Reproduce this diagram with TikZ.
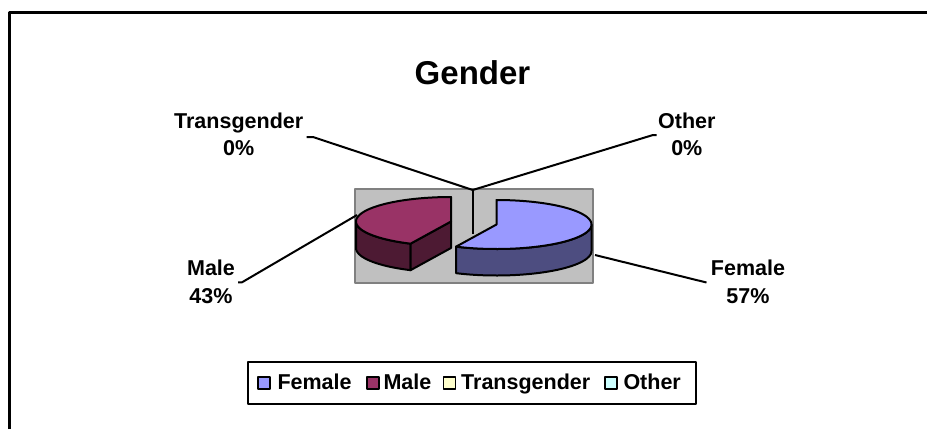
\documentclass[tikz,border=0pt]{standalone}
\usepackage{fontspec}
\setmainfont{Liberation Sans}
\definecolor{femaletop}{HTML}{9999FF}
\definecolor{femaleside}{HTML}{4D4D80}
\definecolor{maletop}{HTML}{993366}
\definecolor{maleside}{HTML}{4D1A33}
\definecolor{transcol}{HTML}{FFFFCC}
\definecolor{othercol}{HTML}{CCFFFF}
\definecolor{plotgray}{HTML}{C0C0C0}
\definecolor{plotedge}{HTML}{808080}
% ellipse radii and thickness of the 3-D pie
\def\pieRX{95}
\def\pieRY{24.5}
\def\pieDepth{26.5}
\begin{document}
\begin{tikzpicture}[x=1pt,y=-1pt,line join=round,
  slice/.style={draw=black,line width=2pt},
  lead/.style={draw=black,line width=2pt},
  lbl/.style={font=\bfseries\fontsize{21.5}{26}\selectfont,inner sep=0pt,anchor=base},
  legtext/.style={font=\bfseries\fontsize{21.5}{26}\selectfont,inner sep=0pt,anchor=base west},
  legkey/.style={draw=black,line width=1.5pt,minimum width=12pt,minimum height=12pt,inner sep=0pt,anchor=south west}]
\useasboundingbox (0,0) rectangle (927,429);

% chart frame (top and left edges)
\draw[line width=2.5pt] (9.5,429) -- (9.5,12.5) -- (927,12.5);

% title
\node[font=\bfseries\fontsize{33}{40}\selectfont,inner sep=0pt,anchor=base] (title) at (472.5,84) {Gender};

% plot area
\draw[fill=plotgray,draw=plotedge,line width=2pt] (354.5,189) rectangle (593,283);

% ---- Male slice (exploded to the left) ----
\coordinate (mc) at (451,221.5);
\coordinate (mend) at ({451+\pieRX*cos(115.2)},{221.5+\pieRY*sin(115.2)});
% outer side
\filldraw[slice,fill=maleside]
  plot[domain=115.2:180,samples=40] ({451+\pieRX*cos(\x)},{221.5+\pieRY*sin(\x)})
  -- plot[domain=180:115.2,samples=40] ({451+\pieRX*cos(\x)},{221.5+\pieDepth+\pieRY*sin(\x)})
  -- cycle;
% cut face
\filldraw[slice,fill=maleside] (mc) -- (mend) -- ([yshift=-\pieDepth pt]mend) -- ([yshift=-\pieDepth pt]mc) -- cycle;
% top face
\filldraw[slice,fill=maletop] (mc)
  -- plot[domain=115.2:270,samples=60] ({451+\pieRX*cos(\x)},{221.5+\pieRY*sin(\x)})
  -- cycle;

% ---- Female slice (exploded to the right) ----
\coordinate (fc) at (496.5,224.5);
\filldraw[slice,fill=femaleside]
  plot[domain=0:115.2,samples=50] ({496.5+\pieRX*cos(\x)},{224.5+\pieRY*sin(\x)})
  -- plot[domain=115.2:0,samples=50] ({496.5+\pieRX*cos(\x)},{224.5+\pieDepth+\pieRY*sin(\x)})
  -- cycle;
\filldraw[slice,fill=femaletop] (fc)
  -- plot[domain=-90:115.2,samples=80] ({496.5+\pieRX*cos(\x)},{224.5+\pieRY*sin(\x)})
  -- cycle;

% ---- data labels ----
\node[lbl] (lTrans) at (238.7,128.5) {Transgender};
\node[lbl] (lTransV) at (238.7,155) {0\%};
\node[lbl] (lOther) at (686.8,128.5) {Other};
\node[lbl] (lOtherV) at (686.8,155) {0\%};
\node[lbl] (lMale) at (211,275.5) {Male};
\node[lbl] (lMaleV) at (211,303.5) {43\%};
\node[lbl] (lFemale) at (748,275.5) {Female};
\node[lbl] (lFemaleV) at (748,303.5) {57\%};

% ---- leader lines ----
\coordinate (hub) at (472.7,190);
\coordinate (hubLow) at (472.7,234);
\coordinate (tBend) at (313,137);
\coordinate (tEnd) at (306.5,137);
\coordinate (oBend) at (653,135);
\coordinate (oEnd) at (656.5,135);
\coordinate (mStart) at (357,215);
\coordinate (mBend) at (242,282.3);
\coordinate (mEnd) at (238,282.3);
\coordinate (fStart) at (595,255);
\coordinate (fEnd) at (706.5,282.5);
\draw[lead] (hubLow) -- (hub);
\draw[lead] (hub) -- (tBend) -- (tEnd);
\draw[lead] (hub) -- (oBend) -- (oEnd);
\draw[lead] (mStart) -- (mBend) -- (mEnd);
\draw[lead] (fStart) -- (fEnd);

% ---- legend ----
\node[draw=black,line width=1.8pt,minimum width=447.7pt,minimum height=42pt,inner sep=0pt] (legend) at (472.15,383.3) {};
\node[legkey,fill=femaletop] (kFemale) at (257,389.5) {};
\node[legtext] (tFemale) at (277.3,389) {Female};
\node[legkey,fill=maletop] (kMale) at (366,389.5) {};
\node[legtext] (tMale) at (383.3,389) {Male};
\node[legkey,fill=transcol] (kTrans) at (442.7,389.5) {};
\node[legtext] (tTrans) at (461,389) {Transgender};
\node[legkey,fill=othercol] (kOther) at (604.3,389.5) {};
\node[legtext] (tOther) at (623.3,389) {Other};
\end{tikzpicture}
\end{document}
